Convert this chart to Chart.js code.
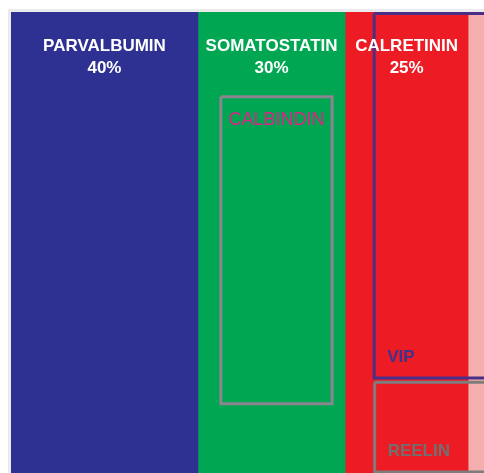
<!DOCTYPE html>
<html>
<head>
<meta charset="utf-8">
<script src="https://cdn.jsdelivr.net/npm/chart.js@4"></script>
<style>
  body { margin: 0; background: #fff; }
  #wrap { width: 484px; height: 473px; }
</style>
</head>
<body>
<div id="wrap"><canvas id="myChart"></canvas></div>
<script>
// main segments (widths as drawn, in % of the axis)
const categories = ["PARVALBUMIN", "SOMATOSTATIN", "CALRETININ", ""];
const shares = [40, 31.5, 26.3, 5];
const shareLabels = ["40%", "30%", "25%", ""];
const segColors = ["#2e3192", "#00a651", "#ed1c24", "#f5aeae"];

// overlay boxes: x range on the same axis, y range 0 (top) .. 100 (bottom)
const boxNames = ["CALBINDIN", "VIP", "REELIN"];
const boxX = [[44.9, 68.7], [77.7, 106], [77.8, 106]];
const boxY = [[18.4, 85.0], [0.3, 79.4], [80.3, 99.8]];
const boxLine = ["#8a8590", "#4b2f87", "#7d7d7d"];
const boxText = ["#e0218a", "#3f318e", "#707070"];

const segDatasets = shares.map((v, i) => ({
  type: "bar",
  label: categories[i],
  data: [v],
  indexAxis: "y",
  xAxisID: "x",
  yAxisID: "y",
  order: 2,
  backgroundColor: segColors[i],
  borderWidth: 0,
  barPercentage: 1,
  categoryPercentage: 1,
}));

const boxDatasets = boxNames.map((n, i) => {
  const [x0, x1] = boxX[i];
  const [y0, y1] = boxY[i];
  return {
    type: "line",
    label: n,
    data: [
      { x: x0, y: y0 }, { x: x1, y: y0 }, { x: x1, y: y1 },
      { x: x0, y: y1 }, { x: x0, y: y0 },
    ],
    xAxisID: "x",
    yAxisID: "y2",
    order: 1,
    borderColor: boxLine[i],
    borderWidth: 3,
    pointRadius: 0,
    fill: false,
    tension: 0,
  };
});

const backdrop = {
  id: "backdrop",
  beforeDraw(chart) {
    const { ctx, chartArea: a } = chart;
    ctx.save();
    ctx.fillStyle = "#ebebeb";
    ctx.fillRect(a.left - 3, a.top - 3, a.right - a.left + 3, a.bottom - a.top + 3);
    ctx.restore();
  },
};

const labels = {
  id: "labels",
  afterDatasetsDraw(chart) {
    const { ctx, chartArea: a } = chart;
    const x = chart.scales.x;
    const y2 = chart.scales.y2;
    ctx.save();
    ctx.textBaseline = "middle";
    ctx.textAlign = "center";
    ctx.fillStyle = "#ffffff";
    ctx.font = "bold 17px 'Liberation Sans', Arial, sans-serif";
    let start = 0;
    shares.forEach((v, i) => {
      const cx = (x.getPixelForValue(start) + x.getPixelForValue(start + v)) / 2;
      start += v;
      if (!categories[i]) return;
      ctx.fillText(categories[i], cx, a.top + 34);
      ctx.fillText(shareLabels[i], cx, a.top + 56);
    });

    // CALBINDIN, centred near the top of its box
    ctx.fillStyle = boxText[0];
    ctx.font = "18px 'Liberation Sans', Arial, sans-serif";
    const cx0 = (x.getPixelForValue(boxX[0][0]) + x.getPixelForValue(boxX[0][1])) / 2;
    ctx.fillText(boxNames[0], cx0, y2.getPixelForValue(boxY[0][0]) + 23);

    // VIP and REELIN, bottom-left of their boxes
    ctx.textAlign = "left";
    ctx.font = "bold 17px 'Liberation Sans', Arial, sans-serif";
    for (let i = 1; i < boxNames.length; i++) {
      ctx.fillStyle = boxText[i];
      ctx.fillText(boxNames[i], x.getPixelForValue(boxX[i][0]) + 13, y2.getPixelForValue(boxY[i][1]) - 21);
    }
    ctx.restore();
  },
};

new Chart(document.getElementById("myChart"), {
  type: "bar",
  data: { labels: [""], datasets: [...segDatasets, ...boxDatasets] },
  options: {
    responsive: true,
    maintainAspectRatio: false,
    animation: false,
    layout: { padding: { left: 11, top: 12, right: 0, bottom: 0 } },
    plugins: { legend: { display: false }, tooltip: { enabled: false } },
    scales: {
      x: { type: "linear", min: 0, max: 101.2, stacked: true, offset: false, display: false },
      y: { type: "category", labels: [""], stacked: true, offset: true, display: false },
      y2: { type: "linear", min: 0, max: 100, reverse: true, offset: false, display: false },
    },
  },
  plugins: [backdrop, labels],
});
</script>
</body>
</html>
